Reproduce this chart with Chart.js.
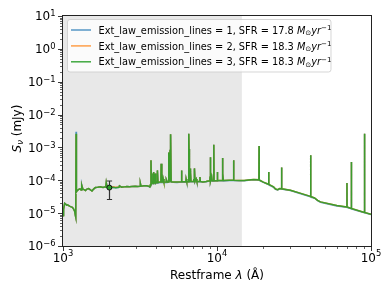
<!DOCTYPE html>
<html>
<head>
<meta charset="utf-8">
<script src="https://cdn.jsdelivr.net/npm/chart.js@4.4.1/dist/chart.umd.min.js"></script>
<style>
  html, body { margin: 0; padding: 0; background: #fff; }
  canvas { display: block; }
</style>
</head>
<body>
<canvas id="sedChart" width="392" height="294"></canvas>
<script>
// restframe wavelength (Angstrom), shared by the three models
const wave = [
  1000,1005,1012,1025,1040,1055,1070,1090,1110,1130,
  1150,1170,1190,1203,1210,1216,1222,1240,1265,1290,
  1310,1318,1328,1345,1370,1400,1430,1466,1500,1543,
  1580,1622,1680,1750,1820,1880,1895,1909,1935,2000,
  2100,2200,2310,2326,2400,2500,2600,2700,2800,2950,
  3050,3165,3180,3210,3350,3500,3600,3660,3700,3727,
  3750,3800,3835,3850,3869,3889,3920,3955,3970,4000,
  4060,4085,4102,4140,4250,4320,4340,4380,4450,4471,
  4520,4670,4686,4760,4840,4861,4900,4959,4985,5007,
  5040,5200,5500,5850,5876,5920,6280,6300,6360,6530,
  6548,6563,6584,6620,6700,6717,6731,6780,7040,7065,
  7110,7136,7200,7300,7330,7400,7720,7751,7800,8100,
  8500,8750,8990,9015,9040,9069,9110,9229,9300,9500,
  9531,9570,10020,10049,10100,10800,10830,10938,11000,12000,
  12780,12818,12860,14000,15000,16000,17300,18700,18756,18800,
  20000,21600,21660,21720,23300,24000,24800,25500,26150,26250,
  26350,30000,35000,40000,40350,40512,40700,43000,45000,47000,
  60000,69700,69800,69900,74500,74600,74700,90700,90800,90900,
  100000
];

// S_nu (mJy), Ext_law_emission_lines = 1
const flux1 = [
  1.1e-5,8.0e-6,1.3e-5,2.0e-5,1.9e-5,1.75e-5,1.8e-5,1.7e-5,1.6e-5,1.55e-5,
  1.5e-5,1.35e-5,1.15e-5,8.5e-6,7.5e-6,3.0e-3,4.4e-5,4.9e-5,5.3e-5,5.5e-5,
  5.1e-5,5.3e-5,7.4e-5,5.4e-5,5.2e-5,4.9e-5,5.4e-5,5.6e-5,5.2e-5,4.7e-5,
  5.4e-5,6.0e-5,6.1e-5,6.3e-5,6.0e-5,6.3e-5,6.2e-5,8.5e-5,6.1e-5,6.0e-5,
  6.1e-5,5.9e-5,6.1e-5,6.8e-5,6.2e-5,6.3e-5,6.5e-5,6.4e-5,6.5e-5,6.6e-5,
  6.5e-5,6.6e-5,8.0e-5,6.6e-5,6.7e-5,6.7e-5,6.5e-5,6.2e-5,7.3e-5,4.0e-4,
  7.6e-5,8.8e-5,1.6e-4,7.8e-5,1.8e-4,1.1e-4,8.3e-5,8.1e-5,1.6e-4,8.0e-5,
  8.4e-5,8.3e-5,2.0e-4,8.3e-5,8.6e-5,8.6e-5,3.2e-4,8.6e-5,8.6e-5,1.1e-4,
  8.5e-5,8.6e-5,1.05e-4,8.6e-5,8.7e-5,7.0e-4,8.8e-5,8.5e-4,8.8e-5,2.5e-3,
  8.8e-5,8.7e-5,8.6e-5,8.8e-5,2.0e-4,8.8e-5,8.9e-5,1.1e-4,8.9e-5,8.9e-5,
  6.0e-4,2.6e-3,9.0e-4,9.0e-5,9.0e-5,2.3e-4,1.8e-4,9.0e-5,9.0e-5,1.1e-4,
  9.0e-5,2.3e-4,9.0e-5,9.0e-5,1.1e-4,9.0e-5,9.0e-5,1.25e-4,9.0e-5,8.7e-5,
  9.0e-5,9.3e-5,9.3e-5,1.3e-4,9.3e-5,5.0e-4,9.3e-5,1.3e-4,9.4e-5,9.4e-5,
  1.2e-3,9.5e-5,9.5e-5,1.8e-4,9.6e-5,9.6e-5,4.8e-4,1.6e-4,9.6e-5,9.8e-5,
  9.8e-5,4.1e-4,9.8e-5,9.6e-5,9.6e-5,1.0e-4,1.04e-4,1.01e-4,1.1e-3,1.0e-4,
  8.6e-5,7.4e-5,1.8e-4,7.3e-5,6.1e-5,5.3e-5,5.1e-5,5.5e-5,5.4e-5,2.45e-4,
  5.4e-5,4.9e-5,3.9e-5,3.2e-5,3.15e-5,5.8e-4,3.1e-5,2.85e-5,2.4e-5,2.15e-5,
  1.65e-5,1.5e-5,8.3e-5,1.5e-5,1.35e-5,3.6e-4,1.35e-5,1.03e-5,2.6e-3,1.03e-5,
  9.1e-6
];

// S_nu (mJy), Ext_law_emission_lines = 2
const flux2 = [
  1.1e-5,8.0e-6,1.3e-5,2.0e-5,1.9e-5,1.75e-5,1.8e-5,1.7e-5,1.6e-5,1.55e-5,
  1.5e-5,1.35e-5,1.15e-5,8.5e-6,7.5e-6,2.5e-3,4.4e-5,4.9e-5,5.3e-5,5.5e-5,
  5.1e-5,5.3e-5,7.0e-5,5.4e-5,5.2e-5,4.9e-5,5.4e-5,5.6e-5,5.2e-5,4.7e-5,
  5.4e-5,6.0e-5,6.1e-5,6.3e-5,6.0e-5,6.3e-5,6.2e-5,8.5e-5,6.1e-5,6.1e-5,
  6.3e-5,6.1e-5,6.2e-5,6.8e-5,6.2e-5,6.3e-5,6.5e-5,6.4e-5,6.5e-5,6.6e-5,
  6.5e-5,6.6e-5,8.0e-5,6.6e-5,6.8e-5,6.8e-5,6.6e-5,6.3e-5,7.5e-5,4.1e-4,
  7.8e-5,9.0e-5,1.6e-4,8.0e-5,1.8e-4,1.1e-4,8.5e-5,8.3e-5,1.6e-4,8.2e-5,
  8.6e-5,8.5e-5,2.0e-4,8.5e-5,8.8e-5,8.8e-5,3.2e-4,8.8e-5,8.8e-5,1.1e-4,
  8.7e-5,8.8e-5,1.05e-4,8.8e-5,8.9e-5,7.0e-4,9.0e-5,8.5e-4,9.0e-5,2.5e-3,
  9.0e-5,8.9e-5,8.8e-5,9.0e-5,2.0e-4,9.0e-5,9.1e-5,1.1e-4,9.1e-5,9.1e-5,
  6.0e-4,2.6e-3,9.0e-4,9.2e-5,9.2e-5,2.3e-4,1.8e-4,9.2e-5,9.2e-5,1.1e-4,
  9.2e-5,2.3e-4,9.2e-5,9.2e-5,1.1e-4,9.2e-5,9.2e-5,1.25e-4,9.2e-5,8.9e-5,
  9.2e-5,9.5e-5,9.5e-5,1.3e-4,9.5e-5,5.0e-4,9.5e-5,1.3e-4,9.6e-5,9.6e-5,
  1.2e-3,9.7e-5,9.7e-5,1.8e-4,9.8e-5,9.8e-5,4.8e-4,1.6e-4,9.8e-5,1.0e-4,
  1.0e-4,4.1e-4,1.0e-4,9.8e-5,9.8e-5,1.02e-4,1.06e-4,1.03e-4,1.1e-3,1.02e-4,
  8.8e-5,7.6e-5,1.8e-4,7.5e-5,6.3e-5,5.4e-5,5.2e-5,5.6e-5,5.5e-5,2.45e-4,
  5.5e-5,5.0e-5,4.0e-5,3.3e-5,3.25e-5,5.8e-4,3.2e-5,2.9e-5,2.45e-5,2.2e-5,
  1.7e-5,1.55e-5,8.3e-5,1.55e-5,1.38e-5,3.6e-4,1.38e-5,1.05e-5,2.6e-3,1.05e-5,
  9.3e-6
];

// S_nu (mJy), Ext_law_emission_lines = 3
const flux3 = [
  1.1e-5,8.0e-6,1.3e-5,2.0e-5,1.9e-5,1.75e-5,1.8e-5,1.7e-5,1.6e-5,1.55e-5,
  1.5e-5,1.35e-5,1.15e-5,8.5e-6,7.5e-6,2.6e-3,4.4e-5,4.9e-5,5.3e-5,5.5e-5,
  5.1e-5,5.3e-5,7.0e-5,5.4e-5,5.2e-5,4.9e-5,5.4e-5,5.6e-5,5.2e-5,4.7e-5,
  5.4e-5,6.0e-5,6.1e-5,6.3e-5,6.0e-5,6.3e-5,6.2e-5,8.5e-5,6.1e-5,6.0e-5,
  6.1e-5,5.9e-5,6.1e-5,6.8e-5,6.2e-5,6.3e-5,6.5e-5,6.4e-5,6.5e-5,6.6e-5,
  6.5e-5,6.6e-5,8.0e-5,6.6e-5,6.8e-5,6.8e-5,6.6e-5,6.3e-5,7.5e-5,4.1e-4,
  7.8e-5,9.0e-5,1.6e-4,8.0e-5,1.8e-4,1.1e-4,8.5e-5,8.3e-5,1.6e-4,8.2e-5,
  8.6e-5,8.5e-5,2.0e-4,8.5e-5,8.8e-5,8.8e-5,3.2e-4,8.8e-5,8.8e-5,1.1e-4,
  8.7e-5,8.8e-5,1.05e-4,8.8e-5,8.9e-5,7.0e-4,9.0e-5,8.5e-4,9.0e-5,2.5e-3,
  9.0e-5,8.9e-5,8.8e-5,9.0e-5,2.0e-4,9.0e-5,9.1e-5,1.1e-4,9.1e-5,9.1e-5,
  6.0e-4,2.6e-3,9.0e-4,9.2e-5,9.2e-5,2.3e-4,1.8e-4,9.2e-5,9.2e-5,1.1e-4,
  9.2e-5,2.3e-4,9.2e-5,9.2e-5,1.1e-4,9.2e-5,9.2e-5,1.25e-4,9.2e-5,8.9e-5,
  9.2e-5,9.5e-5,9.5e-5,1.3e-4,9.5e-5,5.0e-4,9.5e-5,1.3e-4,9.6e-5,9.6e-5,
  1.2e-3,9.7e-5,9.7e-5,1.8e-4,9.8e-5,9.8e-5,4.8e-4,1.6e-4,9.8e-5,1.0e-4,
  1.0e-4,4.1e-4,1.0e-4,9.8e-5,9.8e-5,1.02e-4,1.06e-4,1.03e-4,1.1e-3,1.02e-4,
  8.8e-5,7.6e-5,1.8e-4,7.5e-5,6.3e-5,5.4e-5,5.2e-5,5.6e-5,5.5e-5,2.45e-4,
  5.5e-5,5.0e-5,4.0e-5,3.3e-5,3.25e-5,5.8e-4,3.2e-5,2.9e-5,2.45e-5,2.2e-5,
  1.7e-5,1.55e-5,8.3e-5,1.55e-5,1.38e-5,3.6e-4,1.38e-5,1.05e-5,2.6e-3,1.05e-5,
  9.3e-6
];

const modelNames = ['1', '2', '3'];
const modelSFR = ['17.8', '18.3', '18.3'];
const modelColors = ['rgba(31,119,180,0.75)', 'rgba(255,127,14,0.75)', 'rgba(44,160,44,0.9)'];

// observed photometry point
const obsWave = [2000];
const obsFlux = [6.0e-5];
const obsErrLo = [2.6e-5];
const obsErrHi = [9.5e-5];

// shaded wavelength range
const shadeRange = [1000, 14500];

const xTickExp = [3, 4, 5];
const yTickExp = [-6, -5, -4, -3, -2, -1, 0, 1];

const FONT = '"DejaVu Sans", sans-serif';

function toPoints(xs, ys) {
    return xs.map((x, i) => ({ x: x, y: ys[i] }));
}

function expText(e) {
    return (e < 0 ? '\u2212' : '') + Math.abs(e);
}

function drawPow(ctx, e, x, yBase, yExp, align) {
    const s = expText(e);
    ctx.font = '12px ' + FONT;
    const wb = ctx.measureText('10').width;
    ctx.font = '8.4px ' + FONT;
    const we = ctx.measureText(s).width;
    const x0 = align === 'right' ? x - wb - we : x - (wb + we) / 2;
    ctx.textAlign = 'left';
    ctx.textBaseline = 'alphabetic';
    ctx.font = '12px ' + FONT;
    ctx.fillText('10', x0, yBase);
    ctx.font = '8.4px ' + FONT;
    ctx.fillText(s, x0 + wb, yExp);
}

// parts: [text, font, dy]
function richWidth(ctx, parts) {
    let w = 0;
    for (const p of parts) { ctx.font = p[1]; w += ctx.measureText(p[0]).width; }
    return w;
}
function drawRich(ctx, parts, x, y) {
    let cx = x;
    ctx.textAlign = 'left';
    ctx.textBaseline = 'alphabetic';
    for (const p of parts) {
        ctx.font = p[1];
        ctx.fillText(p[0], cx, y + p[2]);
        cx += ctx.measureText(p[0]).width;
    }
}

const shadePlugin = {
    id: 'shade',
    beforeDatasetsDraw(chart) {
        const { ctx, chartArea: a, scales: { x } } = chart;
        const x0 = x.getPixelForValue(shadeRange[0]);
        const x1 = x.getPixelForValue(shadeRange[1]);
        ctx.save();
        ctx.fillStyle = 'rgb(232,232,232)';
        ctx.fillRect(x0, a.top, x1 - x0, a.bottom - a.top);
        ctx.restore();
    },
    afterDatasetDraw(chart, args) {
        // error bar goes on top of the green model, under the marker
        if (args.index !== 3) return;
        const { ctx, scales: { x, y } } = chart;
        ctx.save();
        ctx.strokeStyle = '#333';
        ctx.lineWidth = 1.2;
        for (let i = 0; i < obsWave.length; i++) {
            const px = Math.round(x.getPixelForValue(obsWave[i])) + 0.5;
            const y0 = y.getPixelForValue(obsErrLo[i]);
            const y1 = y.getPixelForValue(obsErrHi[i]);
            ctx.beginPath();
            ctx.moveTo(px, y0); ctx.lineTo(px, y1);
            ctx.moveTo(px - 2.6, y0); ctx.lineTo(px + 2.6, y0);
            ctx.moveTo(px - 2.6, y1); ctx.lineTo(px + 2.6, y1);
            ctx.stroke();
        }
        ctx.restore();
    }
};

const framePlugin = {
    id: 'frame',
    afterDraw(chart) {
        const { ctx, chartArea: a, scales: { x, y } } = chart;
        const L = Math.round(a.left) - 0.5, R = Math.round(a.right) + 0.5;
        const T = Math.round(a.top) - 0.5, B = Math.round(a.bottom) + 0.5;
        ctx.save();
        ctx.strokeStyle = '#222';
        ctx.fillStyle = '#000';

        // ticks
        ctx.lineWidth = 0.9;
        ctx.beginPath();
        xTickExp.forEach(e => {
            const px = Math.round(x.getPixelForValue(Math.pow(10, e))) + 0.5;
            ctx.moveTo(px, B); ctx.lineTo(px, B + 4.5);
        });
        yTickExp.forEach(e => {
            const py = Math.round(y.getPixelForValue(Math.pow(10, e))) + 0.5;
            ctx.moveTo(L, py); ctx.lineTo(L - 4.5, py);
        });
        ctx.stroke();
        ctx.lineWidth = 0.7;
        ctx.beginPath();
        for (let e = 3; e < 5; e++) {
            for (let m = 2; m < 10; m++) {
                const px = Math.round(x.getPixelForValue(m * Math.pow(10, e))) + 0.5;
                ctx.moveTo(px, B); ctx.lineTo(px, B + 2.5);
            }
        }
        for (let e = -6; e < 1; e++) {
            for (let m = 2; m < 10; m++) {
                const py = Math.round(y.getPixelForValue(m * Math.pow(10, e))) + 0.5;
                ctx.moveTo(L, py); ctx.lineTo(L - 2.5, py);
            }
        }
        ctx.stroke();

        // spines
        ctx.lineWidth = 1;
        ctx.strokeRect(L, T, R - L, B - T);

        // tick labels
        xTickExp.forEach(e => {
            const px = x.getPixelForValue(Math.pow(10, e));
            drawPow(ctx, e, px, 261.7, 256, 'center');
        });
        yTickExp.forEach(e => {
            const py = y.getPixelForValue(Math.pow(10, e));
            drawPow(ctx, e, 55.5, py + 4.4, py + 0.3, 'right');
        });

        // axis titles
        const f12 = '12px ' + FONT, i12 = 'italic 12px ' + FONT, i8 = 'italic 8.4px ' + FONT;
        const xt = [['Restframe ', f12, 0], ['\u03bb', i12, 0], [' (\u00c5)', f12, 0]];
        const xw = richWidth(ctx, xt);
        drawRich(ctx, xt, (a.left + a.right) / 2 - xw / 2, 278.5);

        const yt = [['S', i12, 0], ['\u03bd', i8, 2.2], [' (mJy)', f12, 0]];
        const yw = richWidth(ctx, yt);
        ctx.save();
        ctx.translate(20.5, 128.5 + yw / 2);
        ctx.rotate(-Math.PI / 2);
        drawRich(ctx, yt, 0, 0);
        ctx.restore();

        // legend
        const bx = 67.5, by = 19.5, bw = 263.5, bh = 52.5, r = 2.5;
        ctx.beginPath();
        ctx.moveTo(bx + r, by);
        ctx.lineTo(bx + bw - r, by); ctx.arcTo(bx + bw, by, bx + bw, by + r, r);
        ctx.lineTo(bx + bw, by + bh - r); ctx.arcTo(bx + bw, by + bh, bx + bw - r, by + bh, r);
        ctx.lineTo(bx + r, by + bh); ctx.arcTo(bx, by + bh, bx, by + bh - r, r);
        ctx.lineTo(bx, by + r); ctx.arcTo(bx, by, bx + r, by, r);
        ctx.closePath();
        ctx.fillStyle = 'rgba(255,255,255,0.8)';
        ctx.fill();
        ctx.strokeStyle = 'rgba(204,204,204,0.8)';
        ctx.lineWidth = 1;
        ctx.stroke();

        const f10 = '9.8px ' + FONT, i10 = 'italic 9.8px ' + FONT, f7 = '7px ' + FONT;
        modelNames.forEach((n, i) => {
            const cy = 30 + i * 15.9;
            ctx.strokeStyle = modelColors[i];
            ctx.lineWidth = 1.5;
            ctx.beginPath();
            ctx.moveTo(71, cy); ctx.lineTo(91, cy);
            ctx.stroke();
            ctx.fillStyle = '#000';
            drawRich(ctx, [
                ['Ext_law_emission_lines = ' + n + ', SFR = ' + modelSFR[i] + ' ', f10, 0],
                ['M', i10, 0],
                ['\u2299', f7, 1.8],
                ['yr', i10, 0],
                ['\u22121', f7, -3.8]
            ], 98.5, cy + 3.6);
        });
        ctx.restore();
    }
};

const datasets = [
    {
        label: 'obs', data: toPoints(obsWave, obsFlux), showLine: false, order: 0,
        pointRadius: 2.5, pointBackgroundColor: '#2ca02c', pointBorderColor: '#111', pointBorderWidth: 1
    }
];
[flux1, flux2, flux3].forEach((f, i) => {
    datasets.push({
        label: 'Ext_law_emission_lines = ' + modelNames[i],
        data: toPoints(wave, f),
        borderColor: modelColors[i],
        borderWidth: 1.5,
        pointRadius: 0,
        tension: 0,
        order: 3 - i
    });
});

new Chart(document.getElementById('sedChart'), {
    type: 'line',
    data: { datasets: datasets },
    options: {
        responsive: false,
        animation: false,
        layout: { padding: { left: 63, right: 21, top: 16, bottom: 48 } },
        scales: {
            x: { type: 'logarithmic', min: 1000, max: 100000, display: false },
            y: { type: 'logarithmic', min: 1e-6, max: 10, display: false }
        },
        plugins: { legend: { display: false }, tooltip: { enabled: false } }
    },
    plugins: [shadePlugin, framePlugin]
});
</script>
</body>
</html>
